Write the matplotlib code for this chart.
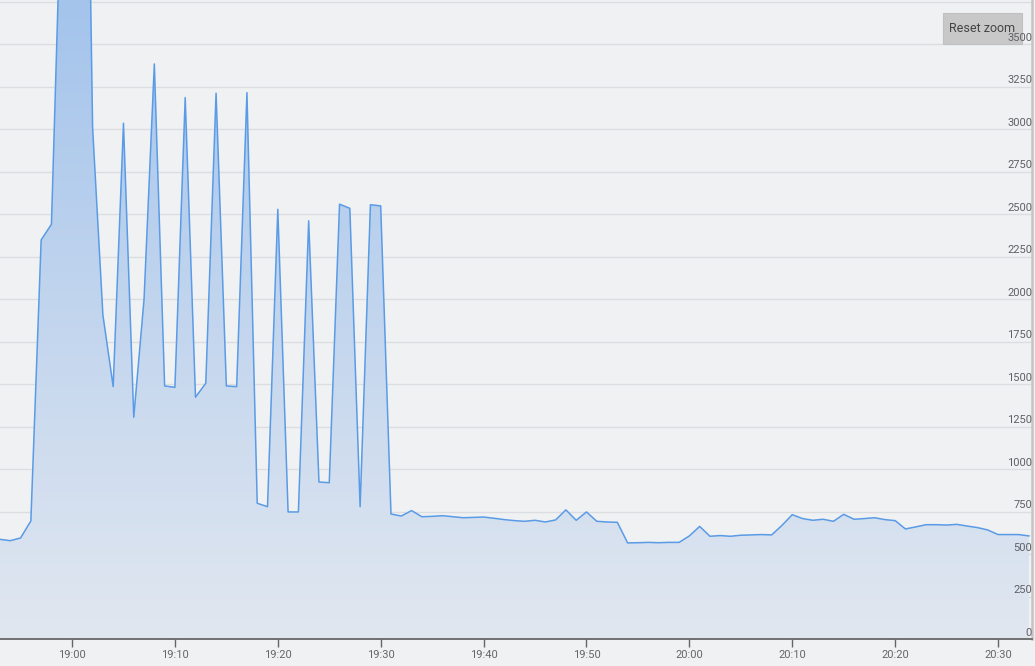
#!/usr/bin/env python3
# -*- coding: utf-8 -*-
"""
Area chart, one reading per minute, zoomed in (Reset zoom button)
"""

import numpy as np
import pandas as pd
import matplotlib
matplotlib.use('Agg')
import matplotlib.dates as mdates
from matplotlib import pyplot as plt
from matplotlib.colors import to_rgb
from matplotlib.patches import Rectangle

START = '2024-01-01 18:53'
VALUES = [
    588, 580, 596, 696, 2349, 2441, 4500, 6000, 7000, 3010,
    1908, 1486, 3035, 1306, 2000, 3384, 1490, 1482, 3186, 1424,
    1506, 3212, 1490, 1486, 3215, 800, 780, 2529, 749, 749,
    2461, 925, 921, 2559, 2535, 780, 2556, 2549, 737, 725,
    757, 721, 723, 727, 721, 715, 717, 719, 712, 704,
    698, 694, 700, 690, 702, 761, 700, 749, 694, 690,
    688, 567, 568, 570, 568, 570, 570, 608, 664, 606,
    610, 606, 612, 614, 616, 614, 670, 733, 710, 700,
    706, 694, 735, 706, 710, 715, 704, 698, 649, 661,
    674, 674, 672, 676, 666, 657, 643, 616, 616, 616,
    608,
]
Y_TICKS = list(range(0, 3751, 250))
Y_LABELS = [str(v) for v in Y_TICKS if v <= 3500]

BG = '#f0f1f3'
LINE = '#5a9be6'
GRID = '#dcdde0'
TEXT = '#666666'

W, H = 1035, 666
AX_BOTTOM_PX = 639.3
AX_RIGHT_PX = 1032
Y_MAX = 3760


def plot_area() -> None:
    times = pd.date_range(START, periods=len(VALUES), freq='min')
    x = mdates.date2num(times)
    y = np.array(VALUES, dtype=float)

    fig = plt.figure(figsize=(W / 100, H / 100), dpi=100, facecolor=BG)
    ax = fig.add_axes([0, (H - AX_BOTTOM_PX) / H, AX_RIGHT_PX / W, AX_BOTTOM_PX / H])
    ax.set_facecolor(BG)

    x_min = x[0]
    x_max = x[0] + 100.3 / (24 * 60)
    ax.set_xlim(x_min, x_max)
    ax.set_ylim(0, Y_MAX)

    # gradient fill clipped to the area under the line
    top, bottom = np.array(to_rgb('#a4c4ec')), np.array(to_rgb('#e1e7f0'))
    t = np.linspace(0, 1, 256)[:, None, None]
    grad = top * (1 - t) + bottom * t
    poly = ax.fill_between(x, y, 0, facecolor='none', edgecolor='none')
    im = ax.imshow(grad, extent=[x_min, x_max, 0, Y_MAX], aspect='auto',
                   zorder=1, interpolation='bilinear')
    im.set_clip_path(poly.get_paths()[0], transform=ax.transData)
    ax.plot(x, y, color=LINE, lw=1.1, zorder=2)

    ax.set_yticks(Y_TICKS)
    ax.yaxis.grid(True, color=GRID, lw=1)
    ax.set_axisbelow(True)
    ax.tick_params(axis='y', left=False, labelleft=False)
    for label in Y_LABELS:
        ax.text(1.0, int(label) + 39, label, transform=ax.get_yaxis_transform(),
                ha='right', va='center', fontsize=8, color='#605f66',
                family='Roboto', zorder=6)

    ax.xaxis.set_major_locator(mdates.MinuteLocator(byminute=range(0, 60, 10)))
    ax.xaxis.set_major_formatter(mdates.DateFormatter('%H:%M'))
    ax.tick_params(axis='x', direction='out', length=6, width=1,
                   color=TEXT, labelcolor=TEXT, labelsize=8, pad=2)
    for label in ax.get_xticklabels():
        label.set_family('Roboto')

    for side in ('top', 'left'):
        ax.spines[side].set_visible(False)
    ax.spines['bottom'].set_color(TEXT)
    ax.spines['bottom'].set_linewidth(1.3)
    ax.spines['right'].set_color('#c4c4c4')
    ax.spines['right'].set_linewidth(1.8)

    # Reset zoom button
    ax.add_patch(Rectangle((943 / W, 1 - 44 / H), 79 / W, 31 / H,
                           transform=fig.transFigure, facecolor='#c8c8c8',
                           edgecolor='#c0c0c0', lw=0.8, clip_on=False, zorder=4))
    ax.text(982.5 / W, 1 - 28 / H, 'Reset zoom', transform=fig.transFigure,
            ha='center', va='center', fontsize=9, color='#444444',
            family='Roboto', zorder=5)

    fig.savefig('out.png', dpi=100, facecolor=BG)


if __name__ == '__main__':
    plot_area()
